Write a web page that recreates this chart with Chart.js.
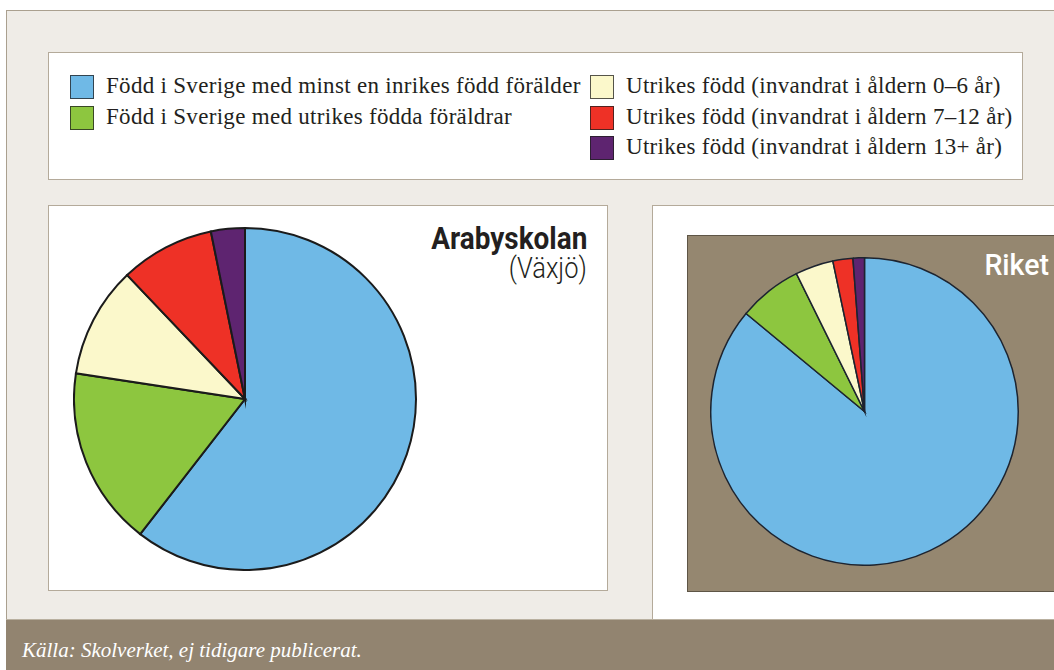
<!DOCTYPE html>
<html lang="sv">
<head>
<meta charset="utf-8">
<title>Elevsammansättning – Arabyskolan och riket</title>
<script src="https://cdn.jsdelivr.net/npm/chart.js"></script>
<style>
	html, body {
		margin: 0;
		padding: 0;
		background: #ffffff;
	}
	body {
		position: relative;
		width: 1054px;
		height: 670px;
		overflow: hidden;
	}
	.abs {
		position: absolute;
		box-sizing: border-box;
	}
	#frame {
		left: 6px;
		top: 10px;
		width: 1060px;
		height: 620px;
		background: #efece7;
		border-left: 1.5px solid #aaa08f;
		border-top: 1.5px solid #aaa08f;
	}
	#legendBox {
		left: 48px;
		top: 52px;
		width: 975px;
		height: 128px;
		background: #ffffff;
		border: 1.5px solid #b4aa9a;
	}
	.legendRow {
		position: absolute;
		height: 24px;
		font-family: "Liberation Serif", "Times New Roman", serif;
		font-size: 23px;
		letter-spacing: 0.3px;
		line-height: 24px;
		color: #231f20;
		white-space: nowrap;
	}
	.swatch {
		position: absolute;
		left: 0;
		top: 0;
		width: 24px;
		height: 24px;
		box-sizing: border-box;
		border: 1px solid rgba(30, 30, 30, 0.75);
	}
	.legendText {
		position: absolute;
		left: 36px;
		top: -1px;
	}
	#leftPanel {
		left: 48px;
		top: 205px;
		width: 560px;
		height: 386px;
		background: #ffffff;
		border: 1.5px solid #b4aa9a;
	}
	#rightPanel {
		left: 652px;
		top: 205px;
		width: 420px;
		height: 430px;
		background: #ffffff;
		border-left: 1.5px solid #b4aa9a;
		border-top: 1.5px solid #b4aa9a;
	}
	#brownBox {
		left: 687px;
		top: 235px;
		width: 400px;
		height: 357px;
		background: #958770;
		border: 1px solid #5e5546;
	}
	#footer {
		left: 6px;
		top: 619px;
		width: 1060px;
		height: 60px;
		background: #928470;
		border-top: 1px solid #b9b0a0;
	}
	#source {
		left: 22px;
		top: 637px;
		font-family: "Liberation Serif", "Times New Roman", serif;
		font-style: italic;
		font-size: 21px;
		line-height: 26px;
		color: #ffffff;
		white-space: nowrap;
	}
	.title {
		position: absolute;
		white-space: nowrap;
		transform-origin: right center;
		text-align: right;
	}
	#schoolTitle {
		right: calc(1054px - 587px);
		top: 224px;
		font-family: Roboto, "Liberation Sans", sans-serif;
		font-weight: 700;
		font-size: 31px;
		line-height: 30px;
		color: #231f20;
		transform: scaleX(0.9);
	}
	#schoolPlace {
		right: calc(1054px - 587px);
		top: 254px;
		font-family: Roboto, "Liberation Sans", sans-serif;
		font-weight: 300;
		font-size: 29px;
		line-height: 28px;
		color: #231f20;
		transform: scaleX(0.88);
	}
	#countryTitle {
		right: calc(1054px - 1049px);
		top: 250px;
		font-family: Roboto, "Liberation Sans", sans-serif;
		font-weight: 500;
		font-size: 30px;
		line-height: 30px;
		color: #ffffff;
		transform: scaleX(0.95);
	}
	canvas {
		position: absolute;
	}
	#schoolCanvas {
		left: 73px;
		top: 227px;
	}
	#countryCanvas {
		left: 710px;
		top: 257px;
	}
</style>
</head>
<body>
<div id="frame" class="abs"></div>
<div id="legendBox" class="abs"></div>
<div id="leftPanel" class="abs"></div>
<div id="rightPanel" class="abs"></div>
<div id="brownBox" class="abs"></div>
<div id="footer" class="abs"></div>
<div id="source" class="abs">Källa: Skolverket, ej tidigare publicerat.</div>

<div id="schoolTitle" class="title">Arabyskolan</div>
<div id="schoolPlace" class="title">(Växjö)</div>
<div id="countryTitle" class="title">Riket</div>

<div id="schoolWrap"><canvas id="schoolCanvas" width="344" height="344"></canvas></div>
<div id="countryWrap"><canvas id="countryCanvas" width="309" height="309"></canvas></div>

<script>
// Elevernas bakgrund, andel i procent
const categories = [
	"Född i Sverige med minst en inrikes född förälder",
	"Född i Sverige med utrikes födda föräldrar",
	"Utrikes född (invandrat i åldern 0–6 år)",
	"Utrikes född (invandrat i åldern 7–12 år)",
	"Utrikes född (invandrat i åldern 13+ år)"
];
const arabyskolanShares = [60.5, 16.9, 10.5, 8.9, 3.2];
const riketShares = [86.0, 6.7, 4.0, 2.1, 1.2];
const sliceColors = ["#6fb9e6", "#8dc63f", "#fbf8cb", "#ee3126", "#5e2470"];

// legend: two columns, first two categories left, rest right
const legendColumns = [[0, 1], [2, 3, 4]];

function buildLegend() {
	const box = document.getElementById("legendBox");
	const columnLeft = [21, 541];
	const rowTop = [22, 52.7, 83.4];
	legendColumns.forEach((indices, column) => {
		indices.forEach((index, row) => {
			const item = document.createElement("div");
			item.className = "legendRow";
			item.style.left = columnLeft[column] + "px";
			item.style.top = rowTop[row] + "px";
			const swatch = document.createElement("span");
			swatch.className = "swatch";
			swatch.style.background = sliceColors[index];
			const text = document.createElement("span");
			text.className = "legendText";
			text.textContent = categories[index];
			item.appendChild(swatch);
			item.appendChild(text);
			box.appendChild(item);
		});
	});
}

function drawPie(canvasId, shares, borderWidth, borderColor) {
	const canvas = document.getElementById(canvasId);
	const context = canvas.getContext("2d");
	if (context === null) {
		throw new Error("Failed to create 2D context");
	}
	const options = {
		type: "pie",
		data: {
			labels: categories,
			datasets: [
				{
					data: shares,
					backgroundColor: sliceColors,
					borderColor: borderColor,
					borderWidth: borderWidth,
					borderJoinStyle: "miter"
				}
			]
		},
		options: {
			responsive: false,
			animation: false,
			layout: {
				padding: 0
			},
			plugins: {
				legend: {
					display: false
				},
				tooltip: {
					enabled: false
				}
			}
		}
	};
	return new Chart(context, options);
}

document.addEventListener("DOMContentLoaded", _ => {
	buildLegend();
	drawPie("schoolCanvas", arabyskolanShares, 2, "#1b1b1b");
	drawPie("countryCanvas", riketShares, 1.5, "#1d2430");
});
</script>
</body>
</html>
